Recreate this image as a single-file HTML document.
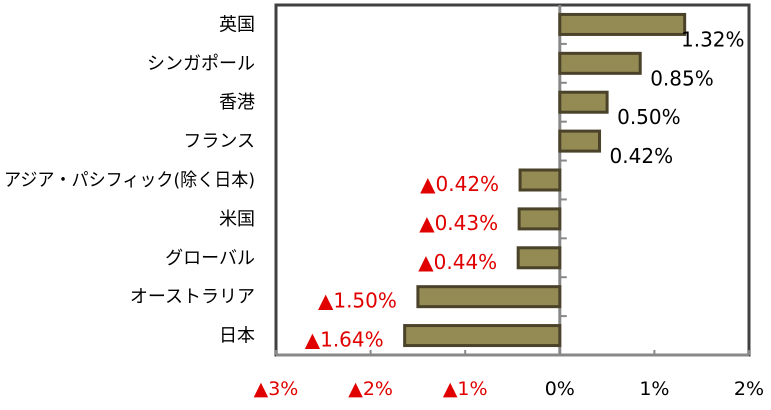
<!DOCTYPE html>
<html><head><meta charset="utf-8"><style>
body{margin:0;background:#fff;width:771px;height:405px;overflow:hidden}
text{font-family:"DejaVu Sans","Noto Sans CJK JP",sans-serif}
</style></head><body>
<svg id="chart" width="771" height="405" xmlns="http://www.w3.org/2000/svg"></svg>
<script>
const categories=["英国","シンガポール","香港","フランス","アジア・パシフィック(除く日本)","米国","グローバル","オーストラリア","日本"];
const values=[1.32,0.85,0.50,0.42,-0.42,-0.43,-0.44,-1.50,-1.64];
const valueLabels=["1.32%","0.85%","0.50%","0.42%","▲0.42%","▲0.43%","▲0.44%","▲1.50%","▲1.64%"];
const ticks=[-3,-2,-1,0,1,2];
const tickLabels=["▲3%","▲2%","▲1%","0%","1%","2%"];
const svg=document.getElementById('chart');
const NS='http://www.w3.org/2000/svg';
const L=276,R=749,T=5,B=355,vmin=-3,vmax=2;
const x=v=>L+(v-vmin)/(vmax-vmin)*(R-L);
const band=(B-T)/categories.length;
const yc=i=>T+band*(i+0.5);
function mk(tag,attrs){const e=document.createElementNS(NS,tag);for(const k in attrs)e.setAttribute(k,attrs[k]);svg.appendChild(e);return e;}
let e;
e=mk('rect',{x:L,y:T,width:R-L,height:B-T,fill:'none',stroke:'#404040','stroke-width':3});


e=mk('line',{x1:L,x2:R,y1:B,y2:B,stroke:'#888','stroke-width':3});


ticks.forEach((t,i)=>{
  e=mk('line',{x1:x(t),x2:x(t),y1:B-5,y2:B,stroke:'#888','stroke-width':2});
  
  
  e=mk('text',{x:x(t),y:395,'text-anchor':'middle','font-size':19,fill:t<0?'#e00000':'#000'});
  e.textContent=tickLabels[i];
  
  
});
e=mk('line',{x1:x(0),x2:x(0),y1:T,y2:B,stroke:'#888','stroke-width':3});


for(let i=1;i<categories.length;i++){
  e=mk('line',{x1:x(0),x2:x(0)+7,y1:T+band*i,y2:T+band*i,stroke:'#888','stroke-width':2});
  
  
}
categories.forEach((c,i)=>{
  const v=values[i],cy=yc(i),h=20;
  const x0=Math.min(x(0),x(v)),w=Math.abs(x(v)-x(0));
  e=mk('rect',{x:x0,y:cy-h/2,width:w,height:h,fill:'#948a54',stroke:'#4a4229','stroke-width':3});
  
  
  e=mk('text',{x:255,y:cy+6,'text-anchor':'end','font-size':18,fill:'#000'});
  e.textContent=c;
  if(c.length>12){e.setAttribute('textLength',251);e.setAttribute('lengthAdjust','spacingAndGlyphs');}
  
  
  if(v>=0){
    e=mk('text',{x:Math.min(x(v)+10,681),y:cy+22,'font-size':20,fill:'#000'});
  }else{
    e=mk('text',{x:x(v)-21,y:cy+11,'text-anchor':'end','font-size':20,fill:'#e00000'});
  }
  e.textContent=valueLabels[i];
  
  
});
</script>
</body></html>
